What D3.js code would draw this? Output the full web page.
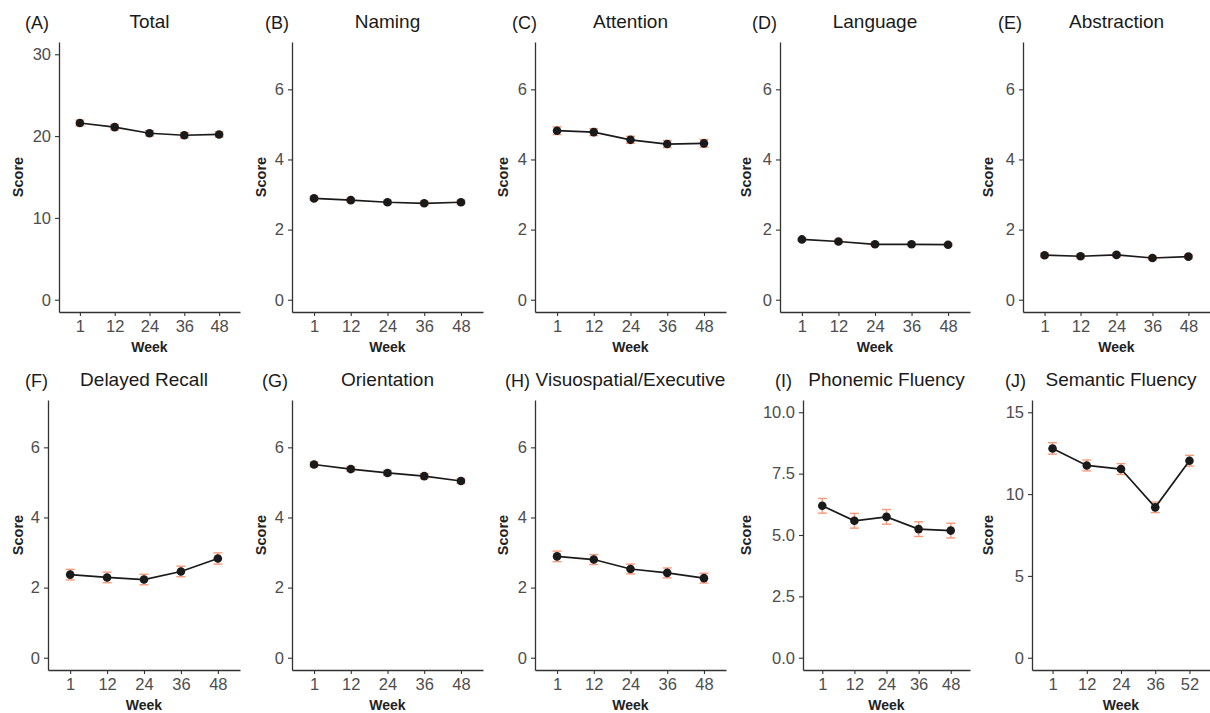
<!DOCTYPE html>
<html>
<head>
<meta charset="utf-8">
<script src="https://cdn.jsdelivr.net/npm/d3@7"></script>
<style>
  html, body { margin: 0; padding: 0; background: #fff; }
  svg { display: block; font-family: "Liberation Sans", Arial, sans-serif; }
</style>
</head>
<body>
<svg id="chart" width="1210" height="713"></svg>
<script>
// ---------------- data ----------------
const panelTags = ["(A)", "(B)", "(C)", "(D)", "(E)", "(F)", "(G)", "(H)", "(I)", "(J)"];
const panelTitles = ["Total", "Naming", "Attention", "Language", "Abstraction",
  "Delayed Recall", "Orientation", "Visuospatial/Executive", "Phonemic Fluency", "Semantic Fluency"];
const weeks = ["1", "12", "24", "36", "48"];
const weeksSemantic = ["1", "12", "24", "36", "52"];

const totalMean = [21.6, 21.1, 20.35, 20.1, 20.2];
const totalSE = [0.35, 0.33, 0.33, 0.33, 0.33];
const namingMean = [2.89, 2.84, 2.78, 2.75, 2.78];
const namingSE = [0.05, 0.05, 0.05, 0.05, 0.05];
const attentionMean = [4.82, 4.78, 4.56, 4.44, 4.46];
const attentionSE = [0.11, 0.1, 0.1, 0.1, 0.11];
const languageMean = [1.72, 1.66, 1.58, 1.58, 1.57];
const languageSE = [0.04, 0.04, 0.04, 0.04, 0.04];
const abstractionMean = [1.27, 1.24, 1.28, 1.19, 1.23];
const abstractionSE = [0.05, 0.05, 0.05, 0.05, 0.05];
const recallMean = [2.37, 2.29, 2.23, 2.46, 2.83];
const recallSE = [0.15, 0.15, 0.15, 0.15, 0.16];
const orientationMean = [5.51, 5.38, 5.27, 5.18, 5.04];
const orientationSE = [0.07, 0.07, 0.07, 0.07, 0.07];
const visuoMean = [2.89, 2.8, 2.53, 2.42, 2.27];
const visuoSE = [0.15, 0.14, 0.14, 0.14, 0.14];
const phonemicMean = [6.19, 5.58, 5.74, 5.24, 5.18];
const phonemicSE = [0.3, 0.3, 0.3, 0.3, 0.3];
const semanticMean = [12.79, 11.75, 11.53, 9.19, 12.04];
const semanticSE = [0.35, 0.33, 0.33, 0.32, 0.33];

const yTicksTotal = [0, 10, 20, 30];
const yTicksDomain = [0, 2, 4, 6];
const yTicksPhonemic = [0, 2.5, 5, 7.5, 10];
const yTicksSemantic = [0, 5, 10, 15];
const yLimits = [30, 7, 7, 7, 7, 7, 7, 7, 10, 15];

const panels = [
  { cats: weeks, mean: totalMean, se: totalSE, ticks: yTicksTotal, fmt: d3.format("d") },
  { cats: weeks, mean: namingMean, se: namingSE, ticks: yTicksDomain, fmt: d3.format("d") },
  { cats: weeks, mean: attentionMean, se: attentionSE, ticks: yTicksDomain, fmt: d3.format("d") },
  { cats: weeks, mean: languageMean, se: languageSE, ticks: yTicksDomain, fmt: d3.format("d") },
  { cats: weeks, mean: abstractionMean, se: abstractionSE, ticks: yTicksDomain, fmt: d3.format("d") },
  { cats: weeks, mean: recallMean, se: recallSE, ticks: yTicksDomain, fmt: d3.format("d") },
  { cats: weeks, mean: orientationMean, se: orientationSE, ticks: yTicksDomain, fmt: d3.format("d") },
  { cats: weeks, mean: visuoMean, se: visuoSE, ticks: yTicksDomain, fmt: d3.format("d") },
  { cats: weeks, mean: phonemicMean, se: phonemicSE, ticks: yTicksPhonemic, fmt: d3.format(".1f") },
  { cats: weeksSemantic, mean: semanticMean, se: semanticSE, ticks: yTicksSemantic, fmt: d3.format("d") }
];

// ---------------- layout ----------------
const colStarts = [0, 243, 485, 728, 970];
const plotRights = [240, 483, 726, 970, 1210];
const plotLefts = [59, 292, 535, 780, 1023, 48, 292, 535, 803, 1032];
const tagX = [25, 265, 512, 752, 998, 25, 262, 505, 775, 1005];
const rowTop = [42, 400];
const rowBottom = [312, 670];

const svg = d3.select("#chart");
const errColor = "#F59B7C";
const inkColor = "#1a1a1a";
const axisColor = "#333333";
const tickTextColor = "#4d4d4d";

panels.forEach((p, i) => {
  const row = Math.floor(i / 5), col = i % 5;
  const left = plotLefts[i], right = plotRights[col];
  const top = rowTop[row], bottom = rowBottom[row];
  const lim = yLimits[i];
  const pad = lim * 0.05;

  const x = d3.scalePoint().domain(p.cats).range([left, right]).padding(0.6);
  const y = d3.scaleLinear().domain([-pad, lim + pad]).range([bottom, top]);

  const g = svg.append("g");

  // axes
  const yAxis = g.append("g").attr("transform", `translate(${left},0)`)
    .call(d3.axisLeft(y).tickValues(p.ticks).tickFormat(p.fmt).tickSize(4).tickSizeOuter(0).tickPadding(4));
  const xAxis = g.append("g").attr("transform", `translate(0,${bottom})`)
    .call(d3.axisBottom(x).tickSize(4).tickSizeOuter(0).tickPadding(4));
  [yAxis, xAxis].forEach(a => {
    a.select(".domain").attr("stroke", axisColor).attr("stroke-width", 1.3);
    a.selectAll(".tick line").attr("stroke", axisColor).attr("stroke-width", 1.1);
    a.selectAll(".tick text").attr("fill", tickTextColor).attr("font-size", 16.5)
      .attr("font-family", "Liberation Sans, Arial, sans-serif");
  });

  // data
  const data = p.cats.map((c, k) => ({ c, m: p.mean[k], s: p.se[k] }));

  const eb = g.append("g").attr("stroke", errColor).attr("stroke-width", 1.4).attr("fill", "none");
  data.forEach(d => {
    const cx = x(d.c);
    eb.append("line").attr("x1", cx).attr("x2", cx).attr("y1", y(d.m - d.s)).attr("y2", y(d.m + d.s));
    eb.append("line").attr("x1", cx - 4.5).attr("x2", cx + 4.5).attr("y1", y(d.m - d.s)).attr("y2", y(d.m - d.s));
    eb.append("line").attr("x1", cx - 4.5).attr("x2", cx + 4.5).attr("y1", y(d.m + d.s)).attr("y2", y(d.m + d.s));
  });

  g.append("path").datum(data)
    .attr("fill", "none").attr("stroke", inkColor).attr("stroke-width", 1.7)
    .attr("d", d3.line().x(d => x(d.c)).y(d => y(d.m)));

  g.selectAll("circle.pt").data(data).enter().append("circle")
    .attr("class", "pt").attr("cx", d => x(d.c)).attr("cy", d => y(d.m)).attr("r", 4.3)
    .attr("fill", inkColor);

  // titles and labels
  g.append("text").attr("x", (left + right) / 2).attr("y", top - 14)
    .attr("text-anchor", "middle").attr("font-size", 19).attr("fill", inkColor)
    .text(panelTitles[i]);
  g.append("text").attr("x", tagX[i]).attr("y", top - 13)
    .attr("text-anchor", "start").attr("font-size", 18).attr("fill", inkColor)
    .text(panelTags[i]);
  g.append("text").attr("x", (left + right) / 2).attr("y", bottom + 40)
    .attr("text-anchor", "middle").attr("font-size", 14).attr("font-weight", "bold").attr("fill", "#222")
    .text("Week");
  g.append("text")
    .attr("transform", `translate(${colStarts[col] + 23},${(top + bottom) / 2}) rotate(-90)`)
    .attr("text-anchor", "middle").attr("font-size", 14.5).attr("font-weight", "bold").attr("fill", "#222")
    .text("Score");
});
</script>
</body>
</html>
